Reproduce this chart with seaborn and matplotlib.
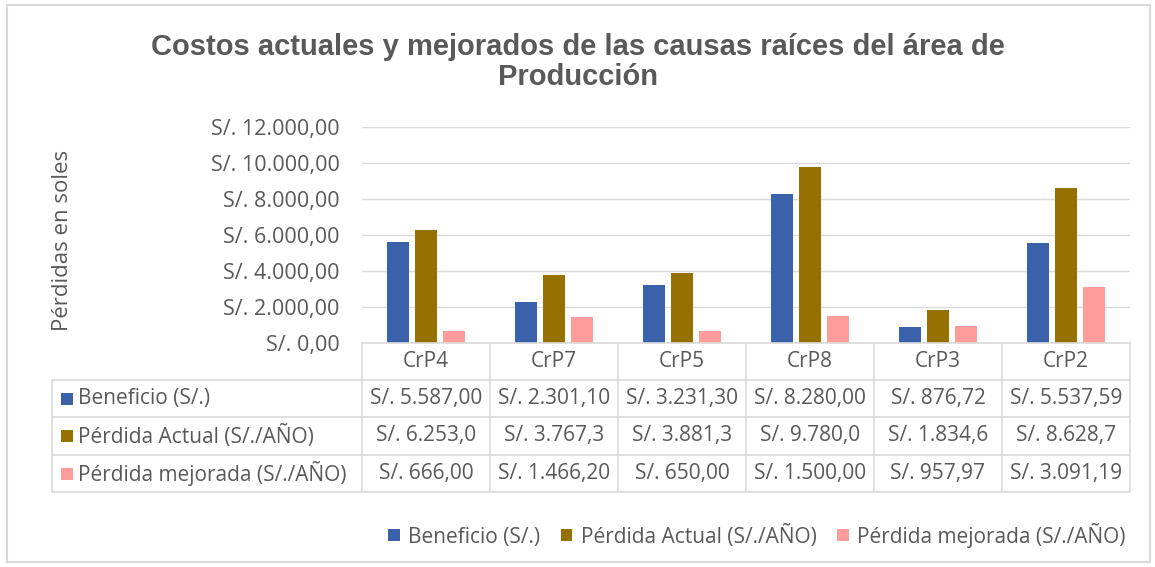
import matplotlib
matplotlib.use("Agg")
import matplotlib.pyplot as plt
import seaborn as sns
import pandas as pd
from matplotlib.patches import Rectangle
from matplotlib.lines import Line2D

# ---- data ----
categories = ["CrP4", "CrP7", "CrP5", "CrP8", "CrP3", "CrP2"]
series_names = ["Beneficio (S/.)", "Pérdida Actual (S/./AÑO)", "Pérdida mejorada (S/./AÑO)"]
beneficio = [5587.00, 2301.10, 3231.30, 8280.00, 876.72, 5537.59]
perdida_actual = [6253.0, 3767.3, 3881.3, 9780.0, 1834.6, 8628.7]
perdida_mejorada = [666.00, 1466.20, 650.00, 1500.00, 957.97, 3091.19]
table_decimals = [2, 1, 2]
title = "Costos actuales y mejorados de las causas raíces del área de\nProducción"
ylabel = "Pérdidas en soles"
yticks = [0, 2000, 4000, 6000, 8000, 10000, 12000]

colors = ["#3A62AB", "#967000", "#FF9B9B"]
grey = "#595959"
FS = 15

def soles(v, dec):
    s = f"{v:,.{dec}f}"
    s = s.replace(",", "X").replace(".", ",").replace("X", ".")
    return "S/. " + s

df = pd.DataFrame({
    "cat": categories * 3,
    "serie": [series_names[0]] * 6 + [series_names[1]] * 6 + [series_names[2]] * 6,
    "valor": beneficio + perdida_actual + perdida_mejorada,
})

sns.set_theme(style="white")
plt.rcParams["font.family"] = ["Open Sans", "DejaVu Sans"]

W, H = 1155, 567
fig = plt.figure(figsize=(W / 100, H / 100), dpi=100)

def fx(x):
    return x / W

def fy(y):
    return 1 - y / H

x0, x1, ytop, ybot = 362, 1130, 127, 343
ax = fig.add_axes([fx(x0), fy(ybot), fx(x1 - x0), (ybot - ytop) / H])

sns.barplot(data=df, x="cat", y="valor", hue="serie", order=categories,
            hue_order=series_names, palette=colors, width=0.66, gap=0.22,
            ax=ax, saturation=1, edgecolor="none")

handles, labels = ax.get_legend_handles_labels()
if ax.get_legend() is not None:
    ax.get_legend().remove()

ax.set_xlim(-0.5, len(categories) - 0.5)
ax.set_ylim(0, 12000)
ax.set_yticks(yticks)
ax.set_yticklabels([soles(t, 2) for t in yticks], color=grey, fontsize=15.5)
ax.tick_params(axis="y", length=0, pad=16)
ax.set_xticks([])
ax.set_xlabel("")
ax.set_ylabel("")
for s in ax.spines.values():
    s.set_visible(False)
ax.yaxis.grid(True, color="#D9D9D9", linewidth=1)
ax.set_axisbelow(True)

# y label
fig.text(fx(62), fy(240), ylabel, rotation=90, ha="center", va="center",
         color=grey, fontsize=16)

# title
fig.text(fx(578), fy(62), title, ha="center", va="center", color=grey,
         fontsize=21, fontweight="bold", family=["Liberation Sans", "DejaVu Sans"],
         linespacing=1.1)

# ---- data table ----
lc = "#D9D9D9"
tx0 = 52
rows_y = [343, 380, 417, 455, 492]
colw = (x1 - x0) / len(categories)

def hline(xa, xb, y):
    fig.add_artist(Line2D([fx(xa), fx(xb)], [fy(y), fy(y)], color=lc, lw=1.2))

def vline(x, ya, yb):
    fig.add_artist(Line2D([fx(x), fx(x)], [fy(ya), fy(yb)], color=lc, lw=1.2))

hline(x0, x1, rows_y[0])
for y in rows_y[1:]:
    hline(tx0, x1, y)
vline(tx0, rows_y[1], rows_y[-1])
for i in range(len(categories) + 1):
    vline(x0 + i * colw, rows_y[0], rows_y[-1])

for i, c in enumerate(categories):
    fig.text(fx(x0 + (i + 0.5) * colw), fy((rows_y[0] + rows_y[1]) / 2), c,
             ha="center", va="center", color=grey, fontsize=FS)

series_vals = [beneficio, perdida_actual, perdida_mejorada]
for r, (name, vals) in enumerate(zip(series_names, series_vals)):
    yc = (rows_y[r + 1] + rows_y[r + 2]) / 2
    fig.add_artist(Rectangle((fx(61), fy(yc + 6)), fx(12), 12 / H,
                             facecolor=colors[r], edgecolor="none"))
    fig.text(fx(78), fy(yc), name, ha="left", va="center", color=grey, fontsize=FS)
    for i, v in enumerate(vals):
        fig.text(fx(x0 + (i + 0.5) * colw), fy(yc), soles(v, table_decimals[r]),
                 ha="center", va="center", color=grey, fontsize=FS)

# legend
leg = fig.legend(handles, labels, loc="center", bbox_to_anchor=(fx(757), fy(535)),
                 ncol=3, frameon=False, fontsize=FS, handlelength=0.55,
                 handleheight=0.55, handletextpad=0.4, columnspacing=1.0)
for t in leg.get_texts():
    t.set_color(grey)

# outer chart border
fig.add_artist(Rectangle((fx(7), fy(562)), fx(1143), (562 - 5) / H,
                         fill=False, edgecolor="#D9D9D9", lw=1.5))

fig.savefig("out.png", dpi=100)
